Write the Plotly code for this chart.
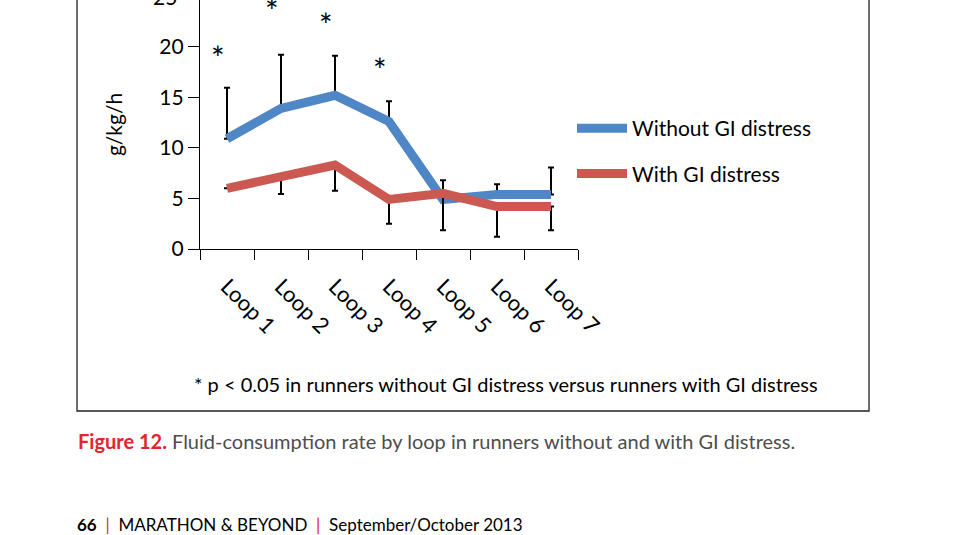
## Fluid-consumption rate by loop, runners without / with GI distress
import plotly.graph_objects as go

## Data
loops = ["Loop 1", "Loop 2", "Loop 3", "Loop 4", "Loop 5", "Loop 6", "Loop 7"]
without_gi = [10.9, 13.9, 15.2, 12.6, 4.9, 5.4, 5.4]
without_gi_err = [5.05, 5.3, 3.9, 2.0, 1.9, 1.0, 2.65]
with_gi = [6.0, 7.2, 8.3, 4.9, 5.5, 4.2, 4.2]
with_gi_err = [0.0, 1.75, 2.55, 2.4, 3.65, 3.0, 2.35]
star_loops = ["Loop 1", "Loop 2", "Loop 3", "Loop 4"]
star_height = [19.7, 24.4, 23.0, 18.5]
y_ticks = [0, 5, 10, 15, 20]

FONT = "Lato"
BLUE = "#4F86C6"
RED = "#CB5952"
Y_MAX = 24.62

## Page geometry helpers (pixel -> paper), plot area is 200..578 x 0..249
def px_x(p):
    return (p - 200) / 378.0

def px_y(p):
    return (249 - p) / 249.0

#-------------------------------------------------------------------------------
fig = go.Figure()
fig.add_trace(go.Scatter(
    x=loops, y=without_gi, name="Without GI distress", mode="lines",
    line=dict(color=BLUE, width=9), legendgroup="a",
    error_y=dict(type="data", array=without_gi_err,
        arrayminus=[0] * len(loops), color="black", thickness=2, width=3)))
fig.add_trace(go.Scatter(
    x=loops, y=with_gi, name="With GI distress", mode="lines",
    line=dict(color=RED, width=9), legendgroup="b",
    error_y=dict(type="data", array=[0] * len(loops),
        arrayminus=with_gi_err, color="black", thickness=2, width=3)))

## Significance stars
for lp, h in zip(star_loops, star_height):
    fig.add_annotation(x=lp, y=h, xref="x", yref="y", text="*",
        showarrow=False, xshift=-9, yshift=-8,
        font=dict(family=FONT, size=32, color="black"))

## Cut-off "25" tick label at the very top
fig.add_annotation(x=px_x(179), y=25 / Y_MAX, xref="paper", yref="paper",
    text="25", showarrow=False, xanchor="right", yanchor="middle",
    font=dict(family=FONT, size=21, color="black"))

## Footnote, caption and page footer
fig.add_annotation(x=px_x(506), y=px_y(384), xref="paper", yref="paper",
    text="* p < 0.05 in runners without GI distress versus runners with GI distress",
    showarrow=False, xanchor="center", yanchor="middle",
    font=dict(family=FONT, size=20, color="black"))
fig.add_annotation(x=px_x(76), y=px_y(441), xref="paper", yref="paper",
    text="<b><span style='color:#E2242C'>Figure 12.</span></b> "
         "Fluid-consumption rate by loop in runners without and with GI distress.",
    showarrow=False, xanchor="left", yanchor="middle",
    font=dict(family=FONT, size=20, color="#4D4D4D"))
fig.add_annotation(x=px_x(75), y=px_y(524), xref="paper", yref="paper",
    text="<b>66</b>  <span style='color:#E2242C'>|</span>  MARATHON &amp; BEYOND"
         "  <span style='color:#E2242C'>|</span>  September/October 2013",
    showarrow=False, xanchor="left", yanchor="middle",
    font=dict(family=FONT, size=17, color="black"))

## Frame around the figure
fig.add_shape(type="rect", xref="paper", yref="paper",
    x0=px_x(77), x1=px_x(869), y0=px_y(411), y1=1.2,
    line=dict(color="#231F20", width=1.3), layer="below")

fig.update_layout(
    width=958, height=535,
    margin=dict(l=200, r=380, t=0, b=286),
    paper_bgcolor="white", plot_bgcolor="white",
    font=dict(family=FONT, size=21, color="black"),
    showlegend=True,
    legend=dict(x=px_x(572), y=px_y(108), xanchor="left", yanchor="top",
        font=dict(family=FONT, size=21, color="black"),
        itemwidth=50, tracegroupgap=15, bgcolor="rgba(0,0,0,0)"),
    xaxis=dict(type="category", range=[-0.5, 6.5], tickson="boundaries",
        ticks="outside", ticklen=10, tickwidth=1.3, tickcolor="black",
        showline=True, linecolor="black", linewidth=1.3, showgrid=False,
        tickangle=45, ticklabelstandoff=15,
        tickfont=dict(family=FONT, size=22)),
    yaxis=dict(range=[0, Y_MAX], tickvals=y_ticks, ticks="outside",
        ticklen=11, tickwidth=1.3, tickcolor="black", showline=True,
        linecolor="black", linewidth=1.3, showgrid=False, zeroline=False,
        tickfont=dict(family=FONT, size=21),
        title=dict(text="g/kg/h", standoff=30,
            font=dict(family=FONT, size=21))),
)
# page body has a default 8px margin; drop it so the figure sits at 0,0
fig.write_html("out.html", config={"displayModeBar": False},
    post_script="document.body.style.margin='0';")
